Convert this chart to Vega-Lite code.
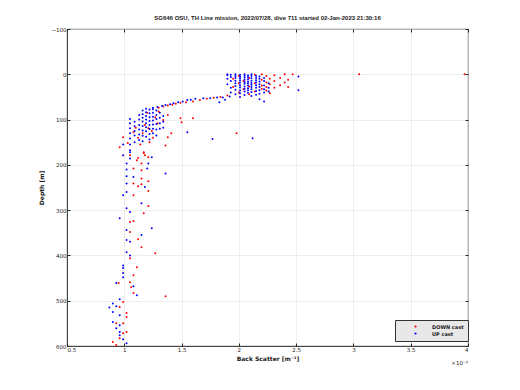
{
  "$schema": "https://vega.github.io/schema/vega-lite/v6.json",
  "autosize": {"type": "none"},
  "width": 401,
  "height": 317,
  "padding": {"left": 67, "top": 29, "right": 52, "bottom": 44},
  "background": "white",
  "title": {"text": "SG646 OSU, TH Line mission, 2022/07/28, dive 711 started 02-Jan-2023 21:30:16", "font": "Liberation Sans", "fontSize": 6, "fontWeight": "bold", "color": "#1a1a1a", "anchor": "middle", "offset": 6},
  "config": {
    "view": {"stroke": "#262626", "strokeWidth": 0.8},
    "axis": {"labelFont": "DejaVu Sans", "labelFontSize": 5.5, "labelColor": "#262626", "titleFont": "DejaVu Sans", "titleFontSize": 6, "titleFontWeight": "bold", "titleColor": "#1a1a1a", "domainColor": "#262626", "domainWidth": 0.8, "tickColor": "#262626", "tickSize": -3, "gridColor": "#e3e3e3", "gridWidth": 0.6, "labelPadding": 4}
  },
  "datasets": {
    "pts": [
      {"c":"DOWN cast","x":1.95,"d":10},{"c":"DOWN cast","x":1.95,"d":28},{"c":"DOWN cast","x":2.0,"d":3},{"c":"DOWN cast","x":2.0,"d":20},{"c":"DOWN cast","x":2.0,"d":40},{"c":"DOWN cast","x":2.04,"d":15},{"c":"DOWN cast","x":2.04,"d":33},{"c":"DOWN cast","x":2.09,"d":8},{"c":"DOWN cast","x":2.09,"d":27},{"c":"DOWN cast","x":2.09,"d":44},{"c":"DOWN cast","x":2.14,"d":1},{"c":"DOWN cast","x":2.14,"d":20},{"c":"DOWN cast","x":2.14,"d":38},{"c":"DOWN cast","x":2.2,"d":0},{"c":"DOWN cast","x":2.2,"d":12},{"c":"DOWN cast","x":2.2,"d":25},{"c":"DOWN cast","x":2.2,"d":32},{"c":"DOWN cast","x":2.24,"d":4},{"c":"DOWN cast","x":2.24,"d":18},{"c":"DOWN cast","x":2.24,"d":28},{"c":"DOWN cast","x":2.24,"d":36},{"c":"DOWN cast","x":2.27,"d":10},{"c":"DOWN cast","x":2.27,"d":22},{"c":"DOWN cast","x":2.27,"d":42},{"c":"DOWN cast","x":2.31,"d":2},{"c":"DOWN cast","x":2.31,"d":15},{"c":"DOWN cast","x":2.31,"d":30},{"c":"DOWN cast","x":2.36,"d":8},{"c":"DOWN cast","x":2.36,"d":24},{"c":"DOWN cast","x":2.4,"d":0},{"c":"DOWN cast","x":2.4,"d":18},{"c":"DOWN cast","x":2.43,"d":12},{"c":"DOWN cast","x":2.43,"d":28},{"c":"DOWN cast","x":2.47,"d":0},{"c":"DOWN cast","x":3.05,"d":0},{"c":"DOWN cast","x":3.97,"d":0},
      {"c":"DOWN cast","x":1.9,"d":47},{"c":"DOWN cast","x":1.84,"d":50},{"c":"DOWN cast","x":1.78,"d":52},{"c":"DOWN cast","x":1.72,"d":54},{"c":"DOWN cast","x":1.66,"d":57},{"c":"DOWN cast","x":1.6,"d":60},{"c":"DOWN cast","x":1.54,"d":62},{"c":"DOWN cast","x":1.49,"d":63},{"c":"DOWN cast","x":1.45,"d":65},{"c":"DOWN cast","x":1.42,"d":67},{"c":"DOWN cast","x":1.38,"d":69},{"c":"DOWN cast","x":1.34,"d":71},{"c":"DOWN cast","x":1.3,"d":74},
      {"c":"DOWN cast","x":1.16,"d":130},{"c":"DOWN cast","x":1.21,"d":119},{"c":"DOWN cast","x":1.29,"d":108},{"c":"DOWN cast","x":1.34,"d":101},{"c":"DOWN cast","x":1.38,"d":90},{"c":"DOWN cast","x":1.49,"d":97},{"c":"DOWN cast","x":1.6,"d":97},{"c":"DOWN cast","x":1.5,"d":106},{"c":"DOWN cast","x":1.12,"d":140},{"c":"DOWN cast","x":1.18,"d":112},{"c":"DOWN cast","x":1.24,"d":125},{"c":"DOWN cast","x":1.27,"d":95},{"c":"DOWN cast","x":1.1,"d":118},{"c":"DOWN cast","x":0.99,"d":139},{"c":"DOWN cast","x":1.03,"d":152},{"c":"DOWN cast","x":0.96,"d":161},{"c":"DOWN cast","x":1.05,"d":179},{"c":"DOWN cast","x":1.12,"d":185},{"c":"DOWN cast","x":1.17,"d":174},{"c":"DOWN cast","x":1.36,"d":157},{"c":"DOWN cast","x":1.38,"d":139},{"c":"DOWN cast","x":1.41,"d":130},{"c":"DOWN cast","x":1.98,"d":130},{"c":"DOWN cast","x":1.2,"d":85},{"c":"DOWN cast","x":1.3,"d":82},{"c":"DOWN cast","x":1.08,"d":128},{"c":"DOWN cast","x":1.14,"d":155},{"c":"DOWN cast","x":1.22,"d":150},{"c":"DOWN cast","x":1.25,"d":140},
      {"c":"DOWN cast","x":1.17,"d":172},{"c":"DOWN cast","x":1.18,"d":179},{"c":"DOWN cast","x":1.21,"d":183},{"c":"DOWN cast","x":1.11,"d":190},{"c":"DOWN cast","x":1.15,"d":197},{"c":"DOWN cast","x":1.08,"d":208},{"c":"DOWN cast","x":1.15,"d":212},{"c":"DOWN cast","x":1.15,"d":230},{"c":"DOWN cast","x":1.21,"d":236},{"c":"DOWN cast","x":1.08,"d":241},{"c":"DOWN cast","x":1.15,"d":243},{"c":"DOWN cast","x":1.12,"d":247},{"c":"DOWN cast","x":1.21,"d":258},{"c":"DOWN cast","x":1.08,"d":267},{"c":"DOWN cast","x":1.21,"d":291},{"c":"DOWN cast","x":1.17,"d":307},{"c":"DOWN cast","x":1.08,"d":324},{"c":"DOWN cast","x":1.05,"d":326},{"c":"DOWN cast","x":1.05,"d":348},{"c":"DOWN cast","x":1.12,"d":364},{"c":"DOWN cast","x":1.15,"d":382},{"c":"DOWN cast","x":1.27,"d":395},{"c":"DOWN cast","x":1.05,"d":406},{"c":"DOWN cast","x":1.11,"d":426},{"c":"DOWN cast","x":1.08,"d":444},{"c":"DOWN cast","x":0.95,"d":461},{"c":"DOWN cast","x":1.05,"d":459},{"c":"DOWN cast","x":1.06,"d":470},{"c":"DOWN cast","x":1.36,"d":490},{"c":"DOWN cast","x":1.08,"d":483},{"c":"DOWN cast","x":0.99,"d":503},{"c":"DOWN cast","x":0.96,"d":514},{"c":"DOWN cast","x":1.02,"d":527},{"c":"DOWN cast","x":1.02,"d":536},{"c":"DOWN cast","x":0.93,"d":550},{"c":"DOWN cast","x":0.99,"d":550},{"c":"DOWN cast","x":0.99,"d":572},{"c":"DOWN cast","x":1.02,"d":569},{"c":"DOWN cast","x":0.96,"d":583},{"c":"DOWN cast","x":0.9,"d":591},{"c":"DOWN cast","x":0.93,"d":598},
      {"c":"UP cast","x":1.9,"d":0},{"c":"UP cast","x":1.9,"d":2},{"c":"UP cast","x":1.9,"d":10},{"c":"UP cast","x":1.9,"d":22},{"c":"UP cast","x":1.93,"d":1},{"c":"UP cast","x":1.93,"d":6},{"c":"UP cast","x":1.93,"d":15},{"c":"UP cast","x":1.93,"d":30},{"c":"UP cast","x":1.93,"d":40},{"c":"UP cast","x":1.97,"d":0},{"c":"UP cast","x":1.97,"d":4},{"c":"UP cast","x":1.97,"d":8},{"c":"UP cast","x":1.97,"d":14},{"c":"UP cast","x":1.97,"d":20},{"c":"UP cast","x":1.97,"d":26},{"c":"UP cast","x":1.97,"d":34},{"c":"UP cast","x":1.97,"d":44},{"c":"UP cast","x":2.01,"d":1},{"c":"UP cast","x":2.01,"d":5},{"c":"UP cast","x":2.01,"d":9},{"c":"UP cast","x":2.01,"d":13},{"c":"UP cast","x":2.01,"d":18},{"c":"UP cast","x":2.01,"d":24},{"c":"UP cast","x":2.01,"d":29},{"c":"UP cast","x":2.01,"d":36},{"c":"UP cast","x":2.01,"d":42},{"c":"UP cast","x":2.01,"d":50},{"c":"UP cast","x":2.05,"d":0},{"c":"UP cast","x":2.05,"d":3},{"c":"UP cast","x":2.05,"d":7},{"c":"UP cast","x":2.05,"d":12},{"c":"UP cast","x":2.05,"d":17},{"c":"UP cast","x":2.05,"d":21},{"c":"UP cast","x":2.05,"d":27},{"c":"UP cast","x":2.05,"d":32},{"c":"UP cast","x":2.05,"d":38},{"c":"UP cast","x":2.05,"d":46},{"c":"UP cast","x":2.08,"d":2},{"c":"UP cast","x":2.08,"d":6},{"c":"UP cast","x":2.08,"d":11},{"c":"UP cast","x":2.08,"d":16},{"c":"UP cast","x":2.08,"d":20},{"c":"UP cast","x":2.08,"d":25},{"c":"UP cast","x":2.08,"d":31},{"c":"UP cast","x":2.08,"d":35},{"c":"UP cast","x":2.08,"d":41},{"c":"UP cast","x":2.11,"d":0},{"c":"UP cast","x":2.11,"d":4},{"c":"UP cast","x":2.11,"d":9},{"c":"UP cast","x":2.11,"d":14},{"c":"UP cast","x":2.11,"d":19},{"c":"UP cast","x":2.11,"d":23},{"c":"UP cast","x":2.11,"d":28},{"c":"UP cast","x":2.11,"d":33},{"c":"UP cast","x":2.11,"d":39},{"c":"UP cast","x":2.11,"d":48},{"c":"UP cast","x":2.15,"d":3},{"c":"UP cast","x":2.15,"d":8},{"c":"UP cast","x":2.15,"d":13},{"c":"UP cast","x":2.15,"d":18},{"c":"UP cast","x":2.15,"d":24},{"c":"UP cast","x":2.15,"d":30},{"c":"UP cast","x":2.15,"d":37},{"c":"UP cast","x":2.15,"d":45},{"c":"UP cast","x":2.18,"d":5},{"c":"UP cast","x":2.18,"d":10},{"c":"UP cast","x":2.18,"d":16},{"c":"UP cast","x":2.18,"d":22},{"c":"UP cast","x":2.18,"d":28},{"c":"UP cast","x":2.18,"d":35},{"c":"UP cast","x":2.18,"d":43},{"c":"UP cast","x":2.18,"d":55},{"c":"UP cast","x":2.22,"d":8},{"c":"UP cast","x":2.22,"d":15},{"c":"UP cast","x":2.22,"d":25},{"c":"UP cast","x":2.22,"d":33},{"c":"UP cast","x":2.22,"d":40},{"c":"UP cast","x":2.22,"d":60},{"c":"UP cast","x":2.26,"d":20},{"c":"UP cast","x":2.26,"d":30},{"c":"UP cast","x":2.26,"d":38},{"c":"UP cast","x":2.52,"d":5},{"c":"UP cast","x":2.52,"d":35},
      {"c":"UP cast","x":1.92,"d":49},{"c":"UP cast","x":1.86,"d":51},{"c":"UP cast","x":1.81,"d":51},{"c":"UP cast","x":1.75,"d":53},{"c":"UP cast","x":1.69,"d":53},{"c":"UP cast","x":1.62,"d":54},{"c":"UP cast","x":1.58,"d":56},{"c":"UP cast","x":1.55,"d":57},{"c":"UP cast","x":1.51,"d":60},{"c":"UP cast","x":1.47,"d":62},{"c":"UP cast","x":1.43,"d":64},{"c":"UP cast","x":1.4,"d":66},{"c":"UP cast","x":1.36,"d":68},{"c":"UP cast","x":1.33,"d":70},{"c":"UP cast","x":1.29,"d":72},{"c":"UP cast","x":1.25,"d":74},{"c":"UP cast","x":1.83,"d":62},{"c":"UP cast","x":1.88,"d":56},
      {"c":"UP cast","x":1.05,"d":99},{"c":"UP cast","x":1.05,"d":108},{"c":"UP cast","x":1.05,"d":119},{"c":"UP cast","x":1.05,"d":130},{"c":"UP cast","x":1.05,"d":142},{"c":"UP cast","x":1.05,"d":155},{"c":"UP cast","x":1.05,"d":168},{"c":"UP cast","x":1.09,"d":105},{"c":"UP cast","x":1.09,"d":115},{"c":"UP cast","x":1.09,"d":125},{"c":"UP cast","x":1.09,"d":135},{"c":"UP cast","x":1.09,"d":150},{"c":"UP cast","x":1.13,"d":90},{"c":"UP cast","x":1.13,"d":100},{"c":"UP cast","x":1.13,"d":112},{"c":"UP cast","x":1.13,"d":122},{"c":"UP cast","x":1.13,"d":133},{"c":"UP cast","x":1.13,"d":145},{"c":"UP cast","x":1.16,"d":80},{"c":"UP cast","x":1.16,"d":88},{"c":"UP cast","x":1.16,"d":96},{"c":"UP cast","x":1.16,"d":104},{"c":"UP cast","x":1.16,"d":114},{"c":"UP cast","x":1.16,"d":124},{"c":"UP cast","x":1.16,"d":136},{"c":"UP cast","x":1.16,"d":148},{"c":"UP cast","x":1.19,"d":76},{"c":"UP cast","x":1.19,"d":84},{"c":"UP cast","x":1.19,"d":92},{"c":"UP cast","x":1.19,"d":100},{"c":"UP cast","x":1.19,"d":108},{"c":"UP cast","x":1.19,"d":117},{"c":"UP cast","x":1.19,"d":126},{"c":"UP cast","x":1.19,"d":138},{"c":"UP cast","x":1.22,"d":78},{"c":"UP cast","x":1.22,"d":86},{"c":"UP cast","x":1.22,"d":95},{"c":"UP cast","x":1.22,"d":103},{"c":"UP cast","x":1.22,"d":112},{"c":"UP cast","x":1.22,"d":121},{"c":"UP cast","x":1.22,"d":132},{"c":"UP cast","x":1.22,"d":144},{"c":"UP cast","x":1.25,"d":77},{"c":"UP cast","x":1.25,"d":85},{"c":"UP cast","x":1.25,"d":94},{"c":"UP cast","x":1.25,"d":102},{"c":"UP cast","x":1.25,"d":111},{"c":"UP cast","x":1.25,"d":120},{"c":"UP cast","x":1.25,"d":130},{"c":"UP cast","x":1.28,"d":80},{"c":"UP cast","x":1.28,"d":90},{"c":"UP cast","x":1.28,"d":99},{"c":"UP cast","x":1.28,"d":110},{"c":"UP cast","x":1.28,"d":122},{"c":"UP cast","x":1.28,"d":135},{"c":"UP cast","x":1.31,"d":85},{"c":"UP cast","x":1.31,"d":96},{"c":"UP cast","x":1.31,"d":108},{"c":"UP cast","x":1.31,"d":120},{"c":"UP cast","x":1.34,"d":92},{"c":"UP cast","x":1.34,"d":105},{"c":"UP cast","x":1.34,"d":118},{"c":"UP cast","x":1.55,"d":128},{"c":"UP cast","x":1.77,"d":143},{"c":"UP cast","x":2.12,"d":141},{"c":"UP cast","x":0.99,"d":155},
      {"c":"UP cast","x":0.99,"d":179},{"c":"UP cast","x":1.05,"d":172},{"c":"UP cast","x":1.24,"d":183},{"c":"UP cast","x":1.05,"d":186},{"c":"UP cast","x":1.21,"d":197},{"c":"UP cast","x":1.02,"d":197},{"c":"UP cast","x":1.2,"d":208},{"c":"UP cast","x":1.36,"d":219},{"c":"UP cast","x":1.02,"d":210},{"c":"UP cast","x":1.02,"d":225},{"c":"UP cast","x":1.08,"d":227},{"c":"UP cast","x":1.02,"d":241},{"c":"UP cast","x":1.18,"d":249},{"c":"UP cast","x":1.02,"d":260},{"c":"UP cast","x":0.99,"d":267},{"c":"UP cast","x":1.15,"d":285},{"c":"UP cast","x":1.02,"d":296},{"c":"UP cast","x":1.05,"d":304},{"c":"UP cast","x":0.96,"d":318},{"c":"UP cast","x":1.24,"d":340},{"c":"UP cast","x":1.02,"d":344},{"c":"UP cast","x":1.15,"d":355},{"c":"UP cast","x":1.02,"d":366},{"c":"UP cast","x":1.05,"d":370},{"c":"UP cast","x":1.02,"d":393},{"c":"UP cast","x":1.05,"d":400},{"c":"UP cast","x":0.99,"d":422},{"c":"UP cast","x":0.99,"d":428},{"c":"UP cast","x":0.99,"d":439},{"c":"UP cast","x":0.99,"d":448},{"c":"UP cast","x":0.93,"d":461},{"c":"UP cast","x":1.08,"d":468},{"c":"UP cast","x":1.11,"d":488},{"c":"UP cast","x":0.96,"d":497},{"c":"UP cast","x":0.9,"d":506},{"c":"UP cast","x":0.93,"d":512},{"c":"UP cast","x":0.87,"d":515},{"c":"UP cast","x":0.9,"d":525},{"c":"UP cast","x":0.96,"d":532},{"c":"UP cast","x":0.9,"d":547},{"c":"UP cast","x":0.96,"d":554},{"c":"UP cast","x":0.93,"d":561},{"c":"UP cast","x":0.96,"d":569},{"c":"UP cast","x":0.96,"d":576},{"c":"UP cast","x":0.99,"d":585},{"c":"UP cast","x":1.02,"d":594}
    ]
  },
  "layer": [
    {
      "data": {"name": "pts"},
      "mark": {"type": "point", "filled": true, "shape": "circle", "size": 4, "opacity": 1},
      "encoding": {
        "x": {"field": "x", "type": "quantitative", "scale": {"domain": [0.5, 4], "nice": false, "zero": false}, "axis": {"values": [0.5,1,1.5,2,2.5,3,3.5,4], "format": "~g", "title": "Back Scatter [m⁻¹]", "titlePadding": 3}},
        "y": {"field": "d", "type": "quantitative", "scale": {"domain": [-100, 600], "reverse": true, "nice": false, "zero": false}, "axis": {"values": [-100,0,100,200,300,400,500,600], "title": "Depth [m]", "titlePadding": 6}},
        "color": {"field": "c", "type": "nominal", "scale": {"domain": ["DOWN cast", "UP cast"], "range": ["#ff0000", "#0000ff"]}, "legend": {"title": null, "orient": "none", "legendX": 328, "legendY": 291, "fillColor": "#e8e8e8", "strokeColor": "#333333", "padding": 4, "labelFont": "DejaVu Sans", "labelFontSize": 5, "labelFontWeight": "bold", "labelColor": "#1a1a1a", "symbolSize": 5, "symbolType": "circle", "symbolOffset": 14, "labelOffset": 14, "rowPadding": 1}}
      }
    },
    {
      "data": {"values": [{"x": 4, "d": 600}]},
      "mark": {"type": "text", "text": "×10⁻³", "font": "DejaVu Sans", "fontSize": 5.5, "align": "right", "baseline": "top", "dy": 15, "color": "#262626"},
      "encoding": {
        "x": {"field": "x", "type": "quantitative", "axis": null},
        "y": {"field": "d", "type": "quantitative", "axis": null}
      }
    },
    {
      "data": {"name": "pts"},
      "mark": {"type": "point", "opacity": 0},
      "encoding": {
        "x": {"field": "x", "type": "quantitative", "axis": {"orient": "top", "values": [0.5,1,1.5,2,2.5,3,3.5,4], "labels": false, "title": null, "grid": false, "domain": false}},
        "y": {"field": "d", "type": "quantitative", "axis": {"orient": "right", "values": [-100,0,100,200,300,400,500,600], "labels": false, "title": null, "grid": false, "domain": false}}
      }
    }
  ],
  "resolve": {"axis": {"x": "independent", "y": "independent"}}
}
